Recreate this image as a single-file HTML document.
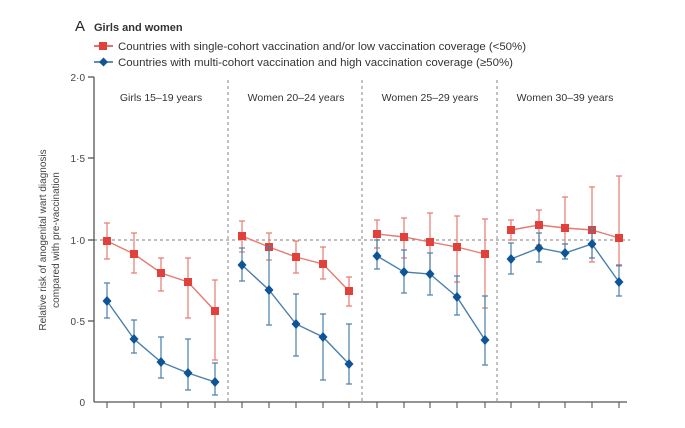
<!DOCTYPE html>
<html><head><meta charset="utf-8"><style>
html,body{margin:0;padding:0;background:#fff;}
svg{display:block;font-family:"Liberation Sans",sans-serif;}
</style></head><body>
<svg width="685" height="428" viewBox="0 0 685 428" xmlns="http://www.w3.org/2000/svg">
<rect width="685" height="428" fill="#fff"/>
<text x="75" y="31" font-size="15" fill="#222">A</text>
<text x="94" y="31" font-size="11" font-weight="bold" fill="#333">Girls and women</text>
<line x1="94" y1="46" x2="113" y2="46" stroke="#e0413a" stroke-width="1.5"/>
<rect x="99" y="42" width="8" height="8" fill="#e0413a"/>
<text x="118" y="50" font-size="11" fill="#333" textLength="408" lengthAdjust="spacingAndGlyphs">Countries with single-cohort vaccination and/or low vaccination coverage (&lt;50%)</text>
<line x1="94" y1="62" x2="113" y2="62" stroke="#2a6a9e" stroke-width="1.5"/>
<path d="M103.5 57.5 L108 62 L103.5 66.5 L99 62Z" fill="#0f5596"/>
<text x="118" y="66" font-size="11" fill="#333" textLength="395" lengthAdjust="spacingAndGlyphs">Countries with multi-cohort vaccination and high vaccination coverage (≥50%)</text>
<g stroke="#999" stroke-width="1.2" stroke-dasharray="3,3">
<line x1="94" y1="240" x2="630" y2="240"/>
<line x1="228" y1="80" x2="228" y2="402"/>
<line x1="362" y1="80" x2="362" y2="402"/>
<line x1="497" y1="80" x2="497" y2="402"/>
</g>
<g stroke="#555" stroke-width="1.3">
<line x1="94" y1="77" x2="94" y2="402"/>
<line x1="88" y1="77" x2="94" y2="77"/>
<line x1="88" y1="158" x2="94" y2="158"/>
<line x1="88" y1="240" x2="94" y2="240"/>
<line x1="88" y1="321" x2="94" y2="321"/>
<line x1="94" y1="402" x2="627" y2="402"/>
</g>
<g stroke="#555" stroke-width="1.1" id="ticks"></g>
<g font-size="10" fill="#444" text-anchor="end">
<text x="85" y="81">2·0</text><text x="85" y="162">1·5</text><text x="85" y="244">1·0</text><text x="85" y="325">0·5</text><text x="85" y="406">0</text>
</g>
<text transform="translate(46,240) rotate(-90)" font-size="10" fill="#444" text-anchor="middle">Relative risk of anogenital wart diagnosis</text>
<text transform="translate(59,240) rotate(-90)" font-size="10" fill="#444" text-anchor="middle">compared with pre-vaccination</text>
<g font-size="10.5" fill="#333" text-anchor="middle">
<text x="161" y="101">Girls 15–19 years</text>
<text x="296" y="101">Women 20–24 years</text>
<text x="430" y="101">Women 25–29 years</text>
<text x="565" y="101">Women 30–39 years</text>
</g>
<g id="data"></g>
</svg>
<script>
var X=[[107,134,161,188,215],[242,269,296,323,349],[377,404,430,457,485],[511,539,565,592,619]];
var R=[[[241,223,259],[254,233,273],[273,258,291],[282,258,318],[311,280,360]],
[[236,221,252],[247,233,260],[257,241,273],[264,247,279],[291,277,306]],
[[234,220,248],[237,218,258],[242,213,275],[247,216,282],[254,219,308]],
[[230,220,240],[225,210,245],[228,197,244],[230,187,262],[238,176,266]]];
var B=[[[301,283,318],[339,320,353],[362,337,378],[373,339,390],[382,363,395]],
[[265,248,281],[290,247,325],[324,294,356],[337,314,380],[364,324,384]],
[[256,240,269],[272,250,293],[274,253,295],[297,276,315],[340,296,365]],
[[259,243,274],[248,233,262],[253,244,259],[244,228,258],[282,265,296]]];
var ns="http://www.w3.org/2000/svg",g=document.getElementById('data'),t=document.getElementById('ticks');
function el(p,n,a){var e=document.createElementNS(ns,n);for(var k in a)e.setAttribute(k,a[k]);p.appendChild(e);return e;}
for(var p=0;p<4;p++){
 for(var i=0;i<5;i++)el(t,'line',{x1:X[p][i],y1:402,x2:X[p][i],y2:408});
 [[R,'#e57a6f','#e0413a'],[B,'#4a7fab','#0f5596']].forEach(function(s){
  var d=s[0][p],pts=[];
  for(var i=0;i<5;i++){var x=X[p][i];pts.push(x+','+d[i][0]);
   el(g,'line',{x1:x,y1:d[i][1],x2:x,y2:d[i][2],stroke:s[1],'stroke-width':1.2});
   el(g,'line',{x1:x-3,y1:d[i][1],x2:x+3,y2:d[i][1],stroke:s[1],'stroke-width':1.2});
   el(g,'line',{x1:x-3,y1:d[i][2],x2:x+3,y2:d[i][2],stroke:s[1],'stroke-width':1.2});}
  el(g,'polyline',{points:pts.join(' '),fill:'none',stroke:s[1],'stroke-width':1.4});
  for(var i=0;i<5;i++){var x=X[p][i],y=d[i][0];
   if(s[0]===R)el(g,'rect',{x:x-4,y:y-4,width:8,height:8,fill:s[2]});
   else el(g,'path',{d:'M'+x+' '+(y-5)+'L'+(x+4.5)+' '+y+'L'+x+' '+(y+5)+'L'+(x-4.5)+' '+y+'Z',fill:s[2]});}
 });
}
</script>
</body></html>
